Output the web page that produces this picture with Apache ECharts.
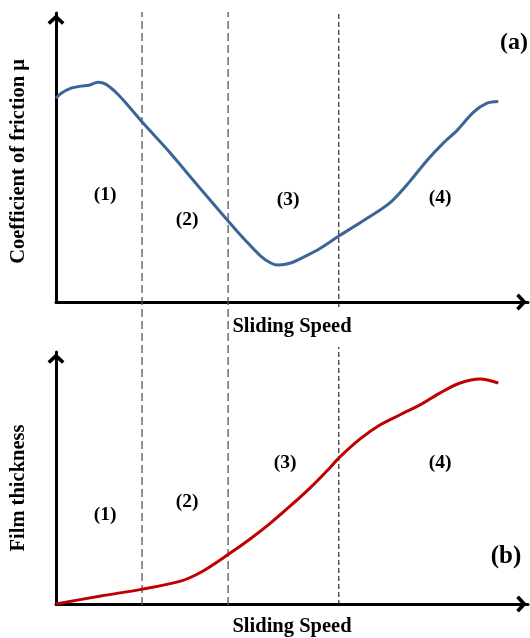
<!DOCTYPE html>
<html>
<head>
<meta charset="utf-8">
<script src="https://cdn.jsdelivr.net/npm/echarts@6/dist/echarts.min.js"></script>
<style>html,body{margin:0;padding:0;background:#fff;}#c{width:530px;height:638px;}</style>
</head>
<body>
<div id="c"></div>
<script>
// Panel (a): coefficient of friction vs sliding speed (arbitrary units 0-100)
const frictionSpeed = [0, 1.1, 3.2, 5.3, 7.0, 8.9, 10.6, 13.1, 15.9, 18.4, 23.7, 30.7, 36.6, 40.2, 43.3, 45.5, 47.1, 49.7, 52.9, 56.0, 60.0, 65.1, 70.8, 75.1, 78.6, 82.0, 85.0, 88.4, 91.3, 93.7];
const friction      = [70.5, 72.2, 74.0, 74.7, 75.0, 76.0, 75.3, 71.9, 66.8, 62.0, 52.5, 39.0, 27.8, 21.2, 16.0, 13.5, 12.8, 13.5, 15.9, 18.6, 22.9, 28.1, 34.4, 42.0, 49.0, 54.9, 59.4, 65.6, 68.8, 69.4];
// Panel (b): film thickness vs sliding speed
const filmSpeed = [0, 9.5, 18.4, 26.4, 30.7, 36.6, 41.2, 45.5, 49.7, 53.9, 58.1, 60.0, 64.5, 68.7, 72.9, 77.2, 81.4, 85.6, 89.9, 93.7];
const film      = [0, 3.2, 5.9, 9.1, 12.6, 19.8, 25.9, 32.2, 39.0, 46.2, 54.2, 58.1, 65.6, 71.1, 75.1, 79.1, 83.8, 87.7, 89.3, 87.7];
// Regime boundaries (sliding speed)
const boundaries = [18.4, 36.6, 60.0];
// Regime labels
const regimeLabels = ['(1)', '(2)', '(3)', '(4)'];
const panelLabels = ['(a)', '(b)'];
const xName = 'Sliding Speed';
const yNames = ['Coefficient of friction μ', 'Film thickness'];

const FONT = '"Liberation Serif", "Times New Roman", serif';
const arrow = 'path://M10,0 L20,9.5 L17,12.5 L10,6 L3,12.5 L0,9.5 Z';

function xAx(gi, show) {
  return {
    type: 'value', gridIndex: gi, min: 0, max: 100, show: show,
    name: xName, nameLocation: 'middle', nameGap: gi === 0 ? 14 : 12,
    nameTextStyle: {fontFamily: FONT, fontWeight: 'bold', fontSize: 20.5, color: '#000', verticalAlign: 'top'},
    axisLine: {show: true, onZero: false, symbol: ['none', arrow], symbolSize: [17, 14], symbolOffset: [0, -6.5],
      lineStyle: {color: '#000', width: 3}},
    axisTick: {show: false}, axisLabel: {show: false}, splitLine: {show: false}
  };
}
function yAx(gi, show) {
  return {
    type: 'value', gridIndex: gi, min: 0, max: 100, show: show,
    name: show ? yNames[gi] : '', nameLocation: 'middle', nameGap: 27, nameRotate: 90,
    nameTextStyle: {fontFamily: FONT, fontWeight: 'bold', fontSize: 20.5, color: '#000',
      padding: gi === 0 ? [0, 8, 0, 0] : [0, 20, 0, 0]},
    axisLine: {show: true, symbol: ['none', arrow], symbolSize: [17, 14], symbolOffset: [0, -6.5],
      lineStyle: {color: '#000', width: 3}},
    axisTick: {show: false}, axisLabel: {show: false}, splitLine: {show: false}
  };
}

// overlay spanning both panels for the regime divider lines
const overlayTop = 12, overlayBottom = 605;
const gapTop = 307, gapBottom = 347;
const gapLo = (overlayBottom - gapBottom) / (overlayBottom - overlayTop) * 100;
const gapHi = (overlayBottom - gapTop) / (overlayBottom - overlayTop) * 100;

const dividerSeries = boundaries.map((b, i) => ({
  type: 'line', xAxisIndex: 2, yAxisIndex: 2, symbol: 'none', silent: true, z: 1,
  connectNulls: false,
  lineStyle: i < 2 ? {color: '#555', width: 1.3, type: [8, 4]} : {color: '#000', width: 1, type: [5, 3]},
  data: i < 2 ? [[b, 0], [b, 100]] : [[b, 0], [b, gapLo], null, [b, gapHi], [b, 100]]
}));

const labelPos = [
  [105, 195], [187, 220], [288, 200], [440, 198],
  [105, 515], [187, 502], [285, 463], [440, 463]
];
const graphics = labelPos.map((p, i) => ({
  type: 'text', x: p[0], y: p[1],
  style: {text: regimeLabels[i % 4], font: 'bold 19.5px ' + FONT, fill: '#000', align: 'center', verticalAlign: 'middle'}
}));
graphics.push({type: 'text', x: 514, y: 43, style: {text: panelLabels[0], font: 'bold 24px ' + FONT, fill: '#000', align: 'center', verticalAlign: 'middle'}});
graphics.push({type: 'text', x: 506, y: 557, style: {text: panelLabels[1], font: 'bold 25px ' + FONT, fill: '#000', align: 'center', verticalAlign: 'middle'}});

const chart = echarts.init(document.getElementById('c'), null, {renderer: 'canvas'});
chart.setOption({
  animation: false,
  backgroundColor: '#fff',
  grid: [
    {left: 55, top: 13, width: 473, height: 289},
    {left: 55, top: 352, width: 473, height: 253},
    {left: 55, top: overlayTop, width: 473, height: overlayBottom - overlayTop}
  ],
  xAxis: [xAx(0, true), xAx(1, true), xAx(2, false)],
  yAxis: [yAx(0, true), yAx(1, true), yAx(2, false)],
  series: [
    ...dividerSeries,
    {type: 'line', xAxisIndex: 0, yAxisIndex: 0, smooth: 0.3, symbol: 'none', z: 3,
     lineStyle: {color: '#3B6598', width: 3}, data: frictionSpeed.map((s, i) => [s, friction[i]])},
    {type: 'line', xAxisIndex: 1, yAxisIndex: 1, smooth: 0.3, symbol: 'none', z: 3,
     lineStyle: {color: '#C00000', width: 3}, data: filmSpeed.map((s, i) => [s, film[i]])}
  ],
  graphic: graphics
});
</script>
</body>
</html>
